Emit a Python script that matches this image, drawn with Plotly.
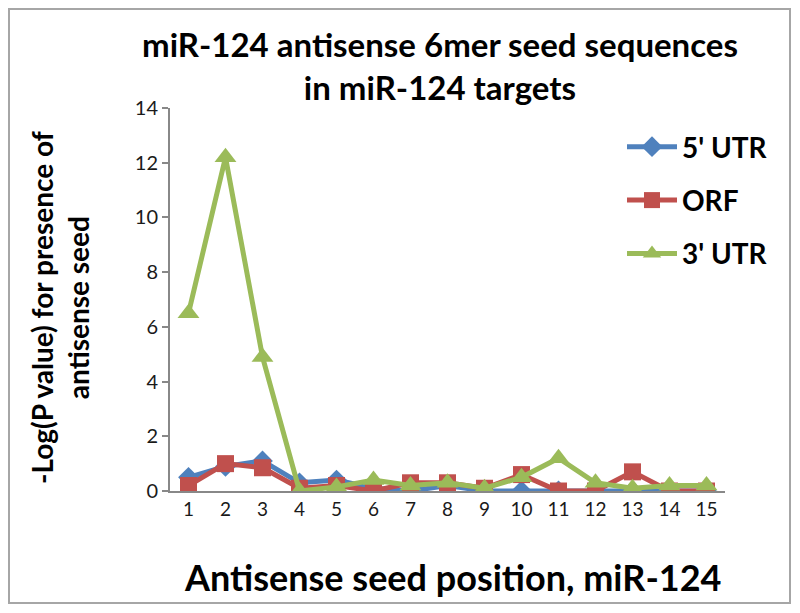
import plotly.graph_objects as go

positions = list(range(1, 16))
utr5 = [0.5, 0.9, 1.1, 0.3, 0.4, 0.1, 0.0, 0.2, 0.0, 0.0, 0.0, 0.0, 0.0, 0.0, 0.0]
orf = [0.2, 1.0, 0.85, 0.1, 0.2, 0.0, 0.3, 0.3, 0.1, 0.6, 0.0, 0.0, 0.7, 0.0, 0.0]
utr3 = [6.5, 12.2, 4.9, 0.0, 0.15, 0.4, 0.2, 0.3, 0.1, 0.5, 1.2, 0.3, 0.1, 0.2, 0.2]

FONT = "Lato, Open Sans, sans-serif"

# page has an 8px body margin, so work in screen pixels and shift
OFF = 8
W, H = 800 - OFF, 613 - OFF
L, R, T, B = 170 - OFF, 725 - OFF, 108 - OFF, 491 - OFF


def px_x(x):
    return (x - OFF - L) / (R - L)


def px_y(y):
    return (B - (y - OFF)) / (B - T)


fig = go.Figure()
series = [
    ("5' UTR", utr5, "#4F81BD", "diamond", 16),
    ("ORF", orf, "#C0504D", "square", 17),
    ("3' UTR", utr3, "#9BBB59", "triangle-up", 19),
]
for i, (name, vals, color, symbol, size) in enumerate(series):
    fig.add_trace(go.Scatter(
        x=positions, y=vals, name=name, mode="lines+markers",
        legendgroup=str(i),
        line=dict(color=color, width=5),
        marker=dict(color=color, symbol=symbol, size=size),
    ))

fig.update_layout(
    width=W, height=H,
    margin=dict(l=L, r=W - R, t=T, b=H - B),
    paper_bgcolor="white", plot_bgcolor="white",
    font=dict(family=FONT, color="#000000"),
    legend=dict(
        x=px_x(622), y=px_y(122), xanchor="left", yanchor="top",
        font=dict(size=28, family=FONT, color="#000000", weight="bold"),
        tracegroupgap=14, itemwidth=50, bgcolor="rgba(0,0,0,0)",
    ),
    showlegend=True,
)
fig.update_xaxes(
    range=[0.5, 15.5], tickmode="array", tickvals=positions,
    ticktext=[str(p) for p in positions],
    showline=True, linecolor="#888888", linewidth=2,
    showgrid=False, zeroline=False, ticks="",
    tickfont=dict(size=19, family=FONT, color="#1a1a1a"),
)
fig.update_yaxes(
    range=[0, 14], dtick=2,
    showline=True, linecolor="#888888", linewidth=2,
    showgrid=False, zeroline=False, ticks="outside", ticklen=6,
    tickcolor="#888888", tickwidth=2,
    tickfont=dict(size=20, family=FONT, color="#1a1a1a"),
)

fig.add_annotation(
    x=px_x(440), y=px_y(65), xref="paper", yref="paper",
    xanchor="center", yanchor="middle",
    text="miR-124 antisense 6mer seed sequences<br>in miR-124 targets",
    showarrow=False, font=dict(size=33, family=FONT, weight="bold"),
    align="center",
)
fig.add_annotation(
    x=px_x(60), y=px_y(308), xref="paper", yref="paper",
    xanchor="center", yanchor="middle",
    text="-Log(P value) for presence of<br>antisense seed",
    textangle=-90, showarrow=False,
    font=dict(size=28, family=FONT, weight="bold"), align="center",
)
fig.add_annotation(
    x=px_x(452), y=px_y(577), xref="paper", yref="paper",
    xanchor="center", yanchor="middle",
    text="Antisense seed position, miR-124",
    showarrow=False, font=dict(size=36, family=FONT, weight="bold"),
)

fig.add_shape(
    type="rect", xref="paper", yref="paper",
    x0=px_x(9), x1=px_x(790), y0=px_y(603), y1=px_y(9),
    line=dict(color="#A6A6A6", width=2),
)

fig.write_html("out.html")
